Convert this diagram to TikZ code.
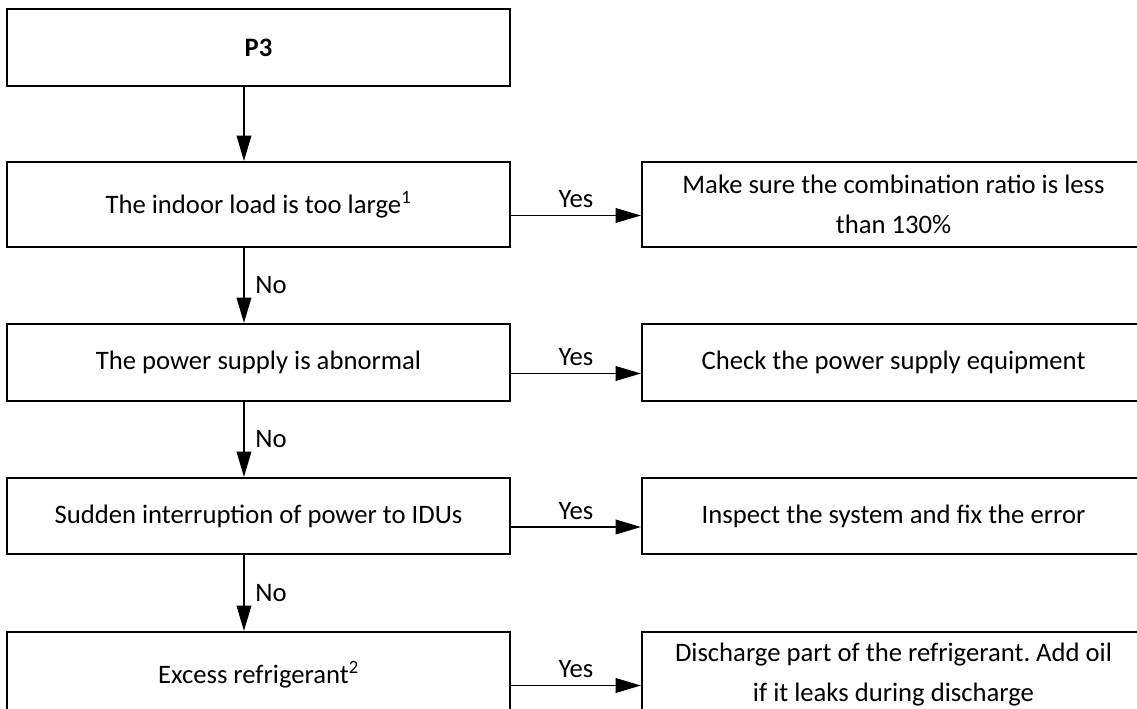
\documentclass[tikz,border=0pt]{standalone}
\usepackage{fontspec}
\setmainfont{Carlito}
\frenchspacing
\usetikzlibrary{arrows.meta}
\begin{document}
\begin{tikzpicture}[x=0.75pt,y=-0.75pt,
  box/.style={draw=black,line width=1.6pt,minimum width=377.25pt,inner sep=0pt,align=center,
    font=\fontsize{20}{30}\selectfont},
  arr/.style={line width=1.2pt,-{Triangle[length=19pt,width=11pt]}},
  lbl/.style={font=\fontsize{20}{24}\selectfont,inner sep=0pt}]
\clip (0,0) rectangle (1137,709);
\fill[white] (0,0) rectangle (1137,709);
% left column
\node[box,minimum height=57.75pt] (p3) at (258.5,47.5) {\textbf{P3}};
\node[box,minimum height=63.75pt] (b1) at (258.5,204.5) {The indoor load is too large\textsuperscript{1}};
\node[box,minimum height=57.75pt] (b2) at (258.5,362.5) {The power supply is abnormal};
\node[box,minimum height=57pt] (b3) at (258.5,516) {Sudden interruption of power to IDUs};
\node[box,minimum height=63.75pt] (b4) at (258.5,674.5) {Excess refrigerant\textsuperscript{2}};
% right column
\node[box,minimum height=63.75pt] (r1) at (893.5,204.5) {Make sure the combination ratio is less\\than 130\%};
\node[box,minimum height=57.75pt] (r2) at (893.5,362.5) {Check the power supply equipment};
\node[box,minimum height=57pt] (r3) at (893.5,516) {Inspect the system and fix the error};
\node[box,minimum height=63.75pt] (r4) at (893.5,674.5) {Discharge part of the refrigerant. Add oil\\if it leaks during discharge};
% vertical connectors
\draw[arr] ([xshift=-10.9pt]p3.south) -- ([xshift=-10.9pt]b1.north);
\draw[arr] ([xshift=-10.9pt]b1.south) -- node[lbl,right,xshift=8pt]{No} ([xshift=-10.9pt]b2.north);
\draw[arr] ([xshift=-10.9pt]b2.south) -- node[lbl,right,xshift=8pt]{No} ([xshift=-10.9pt]b3.north);
\draw[arr] ([xshift=-10.9pt]b3.south) -- node[lbl,right,xshift=8pt]{No} ([xshift=-10.9pt]b4.north);
% horizontal connectors
\draw[arr] ([yshift=-8.25pt]b1.east) -- node[lbl,above,yshift=5pt]{Yes} ([yshift=-8.25pt]r1.west);
\draw[arr] ([yshift=-8.25pt]b2.east) -- node[lbl,above,yshift=5pt]{Yes} ([yshift=-8.25pt]r2.west);
\draw[arr] ([yshift=-8.25pt]b3.east) -- node[lbl,above,yshift=5pt]{Yes} ([yshift=-8.25pt]r3.west);
\draw[arr] ([yshift=-8.25pt]b4.east) -- node[lbl,above,yshift=5pt]{Yes} ([yshift=-8.25pt]r4.west);
\end{tikzpicture}
\end{document}
